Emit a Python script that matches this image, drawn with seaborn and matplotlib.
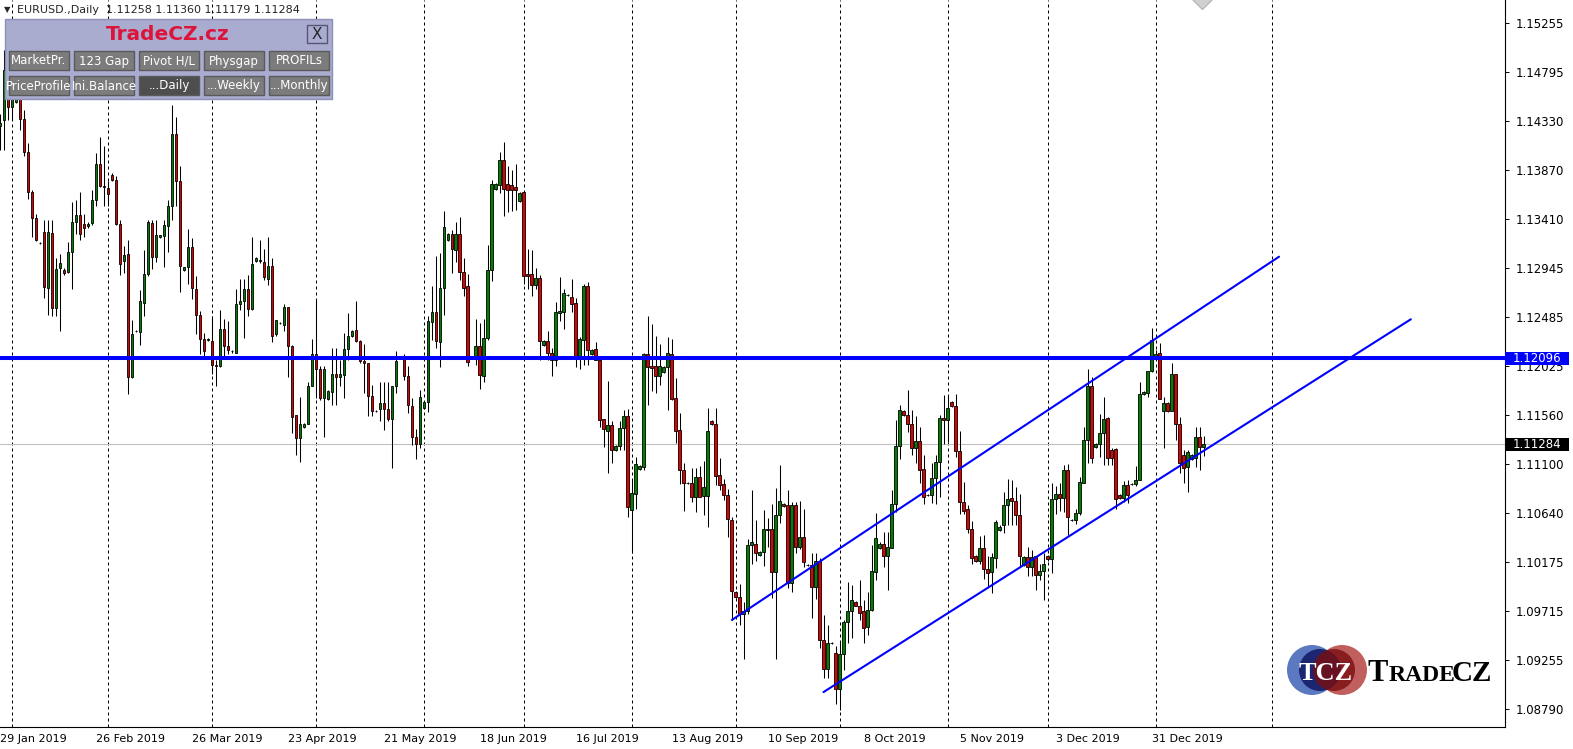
import matplotlib
matplotlib.use("Agg")
import numpy as np
import pandas as pd
import matplotlib.pyplot as plt
import matplotlib.transforms as mtransforms
from matplotlib.patches import Rectangle, Circle
import seaborn as sns

# ---------------- data (EURUSD daily) ----------------
first_day = "2019-01-29"
last_day = "2020-01-15"

open_ = [
    1.1428, 1.1434, 1.1481,
    1.1446, 1.1451, 1.1454, 1.1435, 1.1404, 1.1366, 1.1342, 1.1318, 1.1329, 1.1276, 1.1328, 1.1257, 1.1295, 1.1293, 1.1291, 1.1310, 1.1338, 1.1345, 1.1336, 1.1334, 1.1337, 1.1359, 1.1393, 1.1372,
    1.1370, 1.1382, 1.1378, 1.1336, 1.1301, 1.1308, 1.1192, 1.1235, 1.1234, 1.1262, 1.1289, 1.1337, 1.1305, 1.1324, 1.1325, 1.1334, 1.1353, 1.1421, 1.1377, 1.1293, 1.1296, 1.1314, 1.1275, 1.1250, 1.1228, 1.1227,
    1.1226, 1.1203, 1.1202, 1.1237, 1.1221, 1.1216, 1.1215, 1.1261, 1.1264, 1.1275, 1.1256, 1.1301, 1.1302, 1.1300, 1.1284, 1.1297, 1.1232, 1.1243, 1.1241, 1.1258, 1.1221, 1.1156, 1.1134, 1.1145, 1.1148, 1.1183,
    1.1214, 1.1199, 1.1172, 1.1171, 1.1178, 1.1195, 1.1192, 1.1194, 1.1218, 1.1231, 1.1236, 1.1226, 1.1207, 1.1205, 1.1174, 1.1160, 1.1162, 1.1167, 1.1162, 1.1152, 1.1183, 1.1210, 1.1209, 1.1193, 1.1165, 1.1135, 1.1129,
    1.1163, 1.1168, 1.1244, 1.1253, 1.1225, 1.1276, 1.1321, 1.1327, 1.1312, 1.1327, 1.1291, 1.1278, 1.1210, 1.1210, 1.1221, 1.1193, 1.1229, 1.1293, 1.1369, 1.1373, 1.1396, 1.1374, 1.1373, 1.1371, 1.1358,
    1.1366, 1.1289, 1.1289, 1.1279, 1.1285, 1.1222, 1.1226, 1.1215, 1.1208, 1.1252, 1.1253, 1.1269, 1.1267, 1.1262, 1.1210, 1.1227, 1.1278, 1.1214, 1.1218, 1.1208, 1.1152, 1.1141, 1.1147, 1.1123, 1.1127, 1.1144, 1.1155,
    1.1067, 1.1082, 1.1105, 1.1107, 1.1214, 1.1202, 1.1202, 1.1193, 1.1197, 1.1201, 1.1214, 1.1172, 1.1142, 1.1104, 1.1092, 1.1092, 1.1079, 1.1098, 1.1080, 1.1080, 1.1150, 1.1148, 1.1100, 1.1091, 1.1081, 1.1057,
    1.0989, 1.0985, 1.0969, 1.0971, 1.1034, 1.1035, 1.1024, 1.1027, 1.1048, 1.1049, 1.1008, 1.1062, 1.1072, 1.1071, 1.0998, 1.1071, 1.1032, 1.1041, 1.1015, 1.1015, 1.0994, 1.1019, 1.0944, 1.0917, 1.0941, 1.0932,
    1.0898, 1.0931, 1.0961, 1.0971, 1.0980, 1.0976, 1.0971, 1.0956, 1.0972, 1.1008, 1.1031, 1.1035, 1.1023, 1.1031, 1.1072, 1.1127, 1.1160, 1.1156, 1.1148, 1.1125, 1.1132, 1.1105, 1.1081, 1.1081, 1.1097, 1.1112, 1.1153,
    1.1151, 1.1168, 1.1165, 1.1122, 1.1074, 1.1068, 1.1049, 1.1023, 1.1019, 1.1031, 1.1011, 1.1008, 1.1021, 1.1048, 1.1052, 1.1071, 1.1078, 1.1075, 1.1062, 1.1015, 1.1022, 1.1013, 1.1023, 1.1005, 1.1009,
    1.1023, 1.1020, 1.1077, 1.1082, 1.1078, 1.1104, 1.1057, 1.1057, 1.1064, 1.1092, 1.1133, 1.1183, 1.1126, 1.1129, 1.1139, 1.1153, 1.1123, 1.1124, 1.1081, 1.1078, 1.1090, 1.1091, 1.1091, 1.1095, 1.1176, 1.1177, 1.1198,
    1.1210, 1.1215, 1.1160, 1.1167, 1.1160, 1.1195, 1.1148, 1.1118, 1.1107, 1.1115, 1.1116, 1.1135, 1.11258,
]

high = [
    1.1440, 1.1500, 1.1514,
    1.1499, 1.1456, 1.1456, 1.1444, 1.1412, 1.1368, 1.1346, 1.1319, 1.1340, 1.1340, 1.1340, 1.1304, 1.1308, 1.1295, 1.1319, 1.1357, 1.1359, 1.1366, 1.1346, 1.1338, 1.1368, 1.1403, 1.1418, 1.1410,
    1.1377, 1.1384, 1.1381, 1.1340, 1.1315, 1.1321, 1.1246, 1.1236, 1.1274, 1.1312, 1.1340, 1.1340, 1.1340, 1.1326, 1.1340, 1.1359, 1.1448, 1.1437, 1.1391, 1.1296, 1.1331, 1.1323, 1.1287, 1.1254, 1.1233, 1.1229,
    1.1249, 1.1208, 1.1255, 1.1247, 1.1245, 1.1217, 1.1275, 1.1284, 1.1284, 1.1288, 1.1324, 1.1305, 1.1321, 1.1313, 1.1324, 1.1304, 1.1246, 1.1244, 1.1261, 1.1258, 1.1222, 1.1156, 1.1173, 1.1149, 1.1187, 1.1228,
    1.1265, 1.1202, 1.1202, 1.1180, 1.1219, 1.1219, 1.1208, 1.1233, 1.1252, 1.1236, 1.1264, 1.1227, 1.1223, 1.1205, 1.1184, 1.1161, 1.1187, 1.1187, 1.1187, 1.1183, 1.1216, 1.1211, 1.1214, 1.1202, 1.1172, 1.1143, 1.1180,
    1.1169, 1.1249, 1.1278, 1.1306, 1.1309, 1.1348, 1.1328, 1.1330, 1.1338, 1.1343, 1.1304, 1.1289, 1.1211, 1.1247, 1.1243, 1.1247, 1.1316, 1.1378, 1.1375, 1.1404, 1.1413, 1.1391, 1.1387, 1.1393, 1.1366,
    1.1367, 1.1313, 1.1312, 1.1295, 1.1288, 1.1227, 1.1235, 1.1219, 1.1263, 1.1286, 1.1275, 1.1270, 1.1284, 1.1266, 1.1230, 1.1280, 1.1281, 1.1218, 1.1225, 1.1210, 1.1152, 1.1188, 1.1150, 1.1128, 1.1150, 1.1161, 1.1162,
    1.1095, 1.1117, 1.1109, 1.1215, 1.1249, 1.1242, 1.1231, 1.1223, 1.1202, 1.1230, 1.1228, 1.1191, 1.1158, 1.1111, 1.1093, 1.1106, 1.1106, 1.1108, 1.1113, 1.1163, 1.1151, 1.1163, 1.1116, 1.1096, 1.1086, 1.1060,
    1.0990, 1.0997, 1.0980, 1.1039, 1.1085, 1.1057, 1.1028, 1.1067, 1.1059, 1.1072, 1.1087, 1.1109, 1.1073, 1.1085, 1.1074, 1.1074, 1.1075, 1.1068, 1.1016, 1.1026, 1.1026, 1.1021, 1.0968, 1.0958, 1.0942, 1.0938,
    1.0942, 1.0963, 1.0999, 1.0996, 1.0981, 1.1001, 1.0982, 1.0989, 1.1034, 1.1064, 1.1036, 1.1046, 1.1046, 1.1085, 1.1151, 1.1166, 1.1161, 1.1180, 1.1161, 1.1155, 1.1145, 1.1118, 1.1082, 1.1111, 1.1118, 1.1156, 1.1175,
    1.1175, 1.1169, 1.1176, 1.1141, 1.1093, 1.1071, 1.1056, 1.1024, 1.1042, 1.1043, 1.1023, 1.1026, 1.1057, 1.1052, 1.1084, 1.1096, 1.1095, 1.1088, 1.1082, 1.1023, 1.1032, 1.1029, 1.1023, 1.1016, 1.1026,
    1.1024, 1.1092, 1.1089, 1.1092, 1.1109, 1.1110, 1.1058, 1.1068, 1.1098, 1.1145, 1.1199, 1.1192, 1.1130, 1.1157, 1.1173, 1.1154, 1.1125, 1.1125, 1.1082, 1.1094, 1.1095, 1.1092, 1.1108, 1.1187, 1.1179, 1.1198, 1.1238,
    1.1217, 1.1224, 1.1173, 1.1168, 1.1205, 1.1195, 1.1154, 1.1123, 1.1123, 1.1119, 1.1145, 1.1145, 1.11360,
]

low = [
    1.1406, 1.1406, 1.1434,
    1.1434, 1.1450, 1.1425, 1.1400, 1.1360, 1.1324, 1.1320, 1.1317, 1.1266, 1.1250, 1.1249, 1.1249, 1.1235, 1.1288, 1.1290, 1.1275, 1.1327, 1.1321, 1.1324, 1.1332, 1.1335, 1.1353, 1.1371, 1.1353,
    1.1353, 1.1377, 1.1335, 1.1288, 1.1290, 1.1176, 1.1191, 1.1234, 1.1222, 1.1249, 1.1287, 1.1294, 1.1300, 1.1323, 1.1296, 1.1310, 1.1340, 1.1353, 1.1272, 1.1292, 1.1280, 1.1265, 1.1232, 1.1214, 1.1210, 1.1226,
    1.1195, 1.1183, 1.1201, 1.1211, 1.1214, 1.1215, 1.1215, 1.1255, 1.1229, 1.1249, 1.1255, 1.1300, 1.1299, 1.1283, 1.1279, 1.1225, 1.1231, 1.1242, 1.1235, 1.1192, 1.1139, 1.1118, 1.1112, 1.1144, 1.1148, 1.1183,
    1.1172, 1.1170, 1.1135, 1.1170, 1.1166, 1.1166, 1.1183, 1.1172, 1.1208, 1.1230, 1.1225, 1.1205, 1.1177, 1.1155, 1.1155, 1.1159, 1.1150, 1.1142, 1.1150, 1.1106, 1.1177, 1.1209, 1.1189, 1.1158, 1.1128, 1.1115, 1.1125,
    1.1162, 1.1159, 1.1227, 1.1219, 1.1201, 1.1250, 1.1320, 1.1290, 1.1300, 1.1283, 1.1268, 1.1202, 1.1209, 1.1203, 1.1181, 1.1187, 1.1227, 1.1282, 1.1368, 1.1365, 1.1344, 1.1347, 1.1348, 1.1349, 1.1357,
    1.1280, 1.1275, 1.1268, 1.1275, 1.1208, 1.1221, 1.1208, 1.1193, 1.1202, 1.1245, 1.1237, 1.1268, 1.1253, 1.1201, 1.1199, 1.1203, 1.1203, 1.1213, 1.1208, 1.1145, 1.1126, 1.1101, 1.1111, 1.1122, 1.1123, 1.1123, 1.1060,
    1.1026, 1.1068, 1.1104, 1.1104, 1.1166, 1.1179, 1.1177, 1.1184, 1.1196, 1.1161, 1.1170, 1.1130, 1.1091, 1.1066, 1.1091, 1.1074, 1.1065, 1.1079, 1.1062, 1.1051, 1.1147, 1.1090, 1.1085, 1.1076, 1.1041, 1.0963,
    1.0984, 1.0958, 1.0926, 1.0969, 1.1016, 1.1019, 1.1023, 1.1014, 1.1032, 1.0984, 1.0926, 1.1054, 1.1069, 1.0993, 1.0989, 1.1026, 1.1030, 1.1013, 1.1014, 1.0965, 1.0983, 1.0937, 1.0908, 1.0908, 1.0940, 1.0884,
    1.0878, 1.0916, 1.0941, 1.0946, 1.0976, 1.0963, 1.0941, 1.0949, 1.0971, 1.1001, 1.1030, 1.1013, 1.0991, 1.1031, 1.1065, 1.1115, 1.1155, 1.1140, 1.1118, 1.1111, 1.1092, 1.1072, 1.1080, 1.1073, 1.1072, 1.1079, 1.1129,
    1.1131, 1.1164, 1.1117, 1.1063, 1.1063, 1.1045, 1.1016, 1.1018, 1.1016, 1.1002, 1.0994, 1.0988, 1.1012, 1.1047, 1.1045, 1.1052, 1.1052, 1.1052, 1.1013, 1.1014, 1.1004, 1.1004, 1.0991, 1.1001, 1.0982,
    1.1019, 1.1007, 1.1063, 1.1066, 1.1065, 1.1043, 1.1056, 1.1053, 1.1062, 1.1092, 1.1111, 1.1111, 1.1125, 1.1117, 1.1109, 1.1109, 1.1109, 1.1068, 1.1077, 1.1074, 1.1073, 1.1090, 1.1089, 1.1095, 1.1175, 1.1173, 1.1197,
    1.1209, 1.1171, 1.1125, 1.1159, 1.1160, 1.1133, 1.1101, 1.1092, 1.1084, 1.1114, 1.1107, 1.1104, 1.11179,
]

close = [
    1.1431, 1.1481, 1.1446,
    1.1459, 1.1455, 1.1435, 1.1404, 1.1366, 1.1342, 1.1321, 1.1318, 1.1277, 1.1329, 1.1257, 1.1294, 1.1299, 1.1290, 1.1310, 1.1338, 1.1345, 1.1327, 1.1332, 1.1336, 1.1359, 1.1393, 1.1372, 1.1371,
    1.1364, 1.1378, 1.1336, 1.1298, 1.1307, 1.1192, 1.1232, 1.1235, 1.1264, 1.1289, 1.1338, 1.1305, 1.1326, 1.1326, 1.1335, 1.1353, 1.1421, 1.1377, 1.1297, 1.1296, 1.1314, 1.1276, 1.1250, 1.1228, 1.1216, 1.1228,
    1.1203, 1.1202, 1.1237, 1.1221, 1.1217, 1.1216, 1.1261, 1.1264, 1.1275, 1.1256, 1.1298, 1.1304, 1.1301, 1.1286, 1.1297, 1.1231, 1.1246, 1.1243, 1.1258, 1.1221, 1.1154, 1.1134, 1.1148, 1.1148, 1.1183, 1.1214,
    1.1199, 1.1172, 1.1199, 1.1179, 1.1195, 1.1192, 1.1195, 1.1218, 1.1231, 1.1235, 1.1226, 1.1207, 1.1205, 1.1174, 1.1160, 1.1160, 1.1167, 1.1162, 1.1152, 1.1183, 1.1207, 1.1210, 1.1193, 1.1166, 1.1135, 1.1129, 1.1173,
    1.1168, 1.1245, 1.1253, 1.1226, 1.1276, 1.1333, 1.1327, 1.1313, 1.1327, 1.1291, 1.1276, 1.1206, 1.1210, 1.1221, 1.1194, 1.1229, 1.1293, 1.1374, 1.1374, 1.1396, 1.1369, 1.1368, 1.1368, 1.1368, 1.1365,
    1.1287, 1.1287, 1.1279, 1.1285, 1.1226, 1.1226, 1.1215, 1.1208, 1.1253, 1.1254, 1.1271, 1.1269, 1.1261, 1.1210, 1.1228, 1.1278, 1.1217, 1.1217, 1.1208, 1.1151, 1.1143, 1.1147, 1.1123, 1.1127, 1.1144, 1.1155, 1.1069,
    1.1083, 1.1110, 1.1108, 1.1214, 1.1201, 1.1200, 1.1193, 1.1202, 1.1201, 1.1215, 1.1171, 1.1141, 1.1104, 1.1092, 1.1092, 1.1079, 1.1098, 1.1079, 1.1088, 1.1141, 1.1148, 1.1099, 1.1090, 1.1081, 1.1058, 1.0990,
    1.0985, 1.0969, 1.0971, 1.1034, 1.1036, 1.1026, 1.1027, 1.1049, 1.1049, 1.1008, 1.1062, 1.1075, 1.1070, 1.0998, 1.1071, 1.1032, 1.1041, 1.1018, 1.1015, 1.0994, 1.1019, 1.0944, 1.0917, 1.0941, 1.0941, 1.0898,
    1.0931, 1.0961, 1.0971, 1.0982, 1.0976, 1.0970, 1.0955, 1.0972, 1.1009, 1.1040, 1.1035, 1.1023, 1.1032, 1.1072, 1.1127, 1.1161, 1.1156, 1.1148, 1.1125, 1.1132, 1.1104, 1.1079, 1.1081, 1.1097, 1.1112, 1.1153, 1.1151,
    1.1163, 1.1165, 1.1122, 1.1074, 1.1066, 1.1049, 1.1021, 1.1019, 1.1031, 1.1011, 1.1007, 1.1022, 1.1055, 1.1051, 1.1071, 1.1077, 1.1075, 1.1062, 1.1023, 1.1022, 1.1013, 1.1022, 1.1005, 1.1009, 1.1016,
    1.1020, 1.1077, 1.1082, 1.1078, 1.1104, 1.1060, 1.1057, 1.1064, 1.1093, 1.1133, 1.1183, 1.1116, 1.1129, 1.1139, 1.1152, 1.1116, 1.1116, 1.1077, 1.1078, 1.1090, 1.1081, 1.1091, 1.1095, 1.1176, 1.1178, 1.1198, 1.1227,
    1.1214, 1.1171, 1.1167, 1.1160, 1.1195, 1.1148, 1.1111, 1.1106, 1.1121, 1.1118, 1.1135, 1.1126, 1.11284,
]

price_ticks = [1.15255, 1.14795, 1.14330, 1.13870, 1.13410, 1.12945, 1.12485, 1.12025,
               1.11560, 1.11100, 1.10640, 1.10175, 1.09715, 1.09255, 1.08790]
level_price = 1.12096          # thick blue horizontal level

# trendline anchors: (bar number, price)
upper_line_bar = [183, 319.8]
upper_line_price = [1.0963, 1.13053]
lower_line_bar = [205.9, 352.75]
lower_line_price = [1.0895, 1.12463]

# grey arrow object sitting on the top edge: (bar number, price)
arrow_bar = 300.5
arrow_price = 1.1548

panel_row1 = ["MarketPr.", "123 Gap", "Pivot H/L", "Physgap", "PROFILs"]
panel_row2 = ["PriceProfile", "Ini.Balance", "...Daily", "...Weekly", "...Monthly"]

# ---------------- frame ----------------
days = pd.date_range(first_day, last_day, freq="D")
days = days[days.dayofweek != 5]   # feed has sunday bars, no saturdays
df = pd.DataFrame({"date": days, "open": open_, "high": high, "low": low, "close": close})
df["i"] = np.arange(len(df))

W, H = 1573, 749
sns.set_style("white")
plt.rcParams["font.family"] = ["DejaVu Sans"]

fig = plt.figure(figsize=(W / 100, H / 100), dpi=100)
ax = fig.add_axes([0, 22 / H, 1505 / W, 727 / H])
ymin, ymax = 1.08621, 1.15472
ax.set_xlim(0.075, 376.3)
ax.set_ylim(ymin, ymax)

# month separators (and the next one, projected in calendar days)
month_start = df.index[df["date"].dt.month != df["date"].dt.month.shift()][1:]
last = df["date"].iloc[-1]
next_sep = df["i"].iloc[-1] + ((last + pd.offsets.MonthBegin(1)) - last).days
for i in list(month_start) + [next_sep]:
    ax.axvline(i, color="black", linewidth=0.72, linestyle=(0, (3, 3)), zorder=1)

# bid line
ax.axhline(df["close"].iloc[-1], color="#C0C0C0", linewidth=0.75, zorder=2)

# candles
up = df["close"] >= df["open"]
body_col = np.where(up, "#008000", "#E00000")
ax.vlines(df["i"], df["low"], df["high"], color="black", linewidth=0.75, zorder=3)
ax.bar(df["i"], (df["close"] - df["open"]).abs().clip(lower=0.00002),
       bottom=df[["open", "close"]].min(axis=1), width=0.72,
       color=body_col, edgecolor="black", linewidth=0.6, zorder=4)

# objects
ax.axhline(level_price, color="#0000FF", linewidth=2.9, zorder=5)
sns.lineplot(x=upper_line_bar, y=upper_line_price, ax=ax, color="#0000FF", linewidth=1.5, zorder=5)
sns.lineplot(x=lower_line_bar, y=lower_line_price, ax=ax, color="#0000FF", linewidth=1.5, zorder=5)
ax.plot([arrow_bar], [arrow_price], marker="D", markersize=10, color="#D0D0D0",
        markeredgecolor="#B8B8B8", zorder=5)
ax.set_xlim(0.075, 376.3)
ax.set_ylim(ymin, ymax)

# axes
for s in ["top", "left"]:
    ax.spines[s].set_visible(False)
for s in ["right", "bottom"]:
    ax.spines[s].set_color("black")
    ax.spines[s].set_linewidth(0.8)
ax.yaxis.tick_right()
ax.set_yticks(price_ticks)
ax.set_yticklabels([f"{v:.5f}" for v in price_ticks])
ax.tick_params(axis="y", direction="out", length=3, width=0.7, pad=5, labelsize=8.5, colors="black")
lab = df.iloc[::24]
ax.set_xticks(lab["i"])
ax.set_xticklabels([f"{d.day} {d.strftime('%b %Y')}" for d in lab["date"]], ha="left")
ax.tick_params(axis="x", direction="out", length=3, width=0.7, pad=2, labelsize=8, colors="black")
ax.set_xlabel("")
ax.set_ylabel("")

# price boxes on the scale
blend = mtransforms.blended_transform_factory(ax.transAxes, ax.transData)
box_h = 13 * (ymax - ymin) / 727
for price, bg in [(level_price, "#0000FF"), (df["close"].iloc[-1], "black")]:
    ax.add_patch(Rectangle((1.0, price - box_h / 2), 64 / 1505, box_h, transform=blend,
                           facecolor=bg, edgecolor="none", clip_on=False, zorder=6))
    ax.text(1.0 + 8 / 1505, price, f"{price:.5f}", transform=blend, color="white",
            fontsize=8.5, va="center", ha="left", zorder=7, clip_on=False)

# ---------------- overlay: header, panel, logo ----------------
ov = fig.add_axes([0, 0, 1, 1], zorder=10)
ov.set_xlim(0, W)
ov.set_ylim(H, 0)
ov.axis("off")

o, h, l, c = open_[-1], high[-1], low[-1], close[-1]
ov.text(4, 10, "\u25bc", fontsize=6, va="center", ha="left")
ov.text(17, 10, f"EURUSD.,Daily  {o:.5f} {h:.5f} {l:.5f} {c:.5f}", fontsize=8,
        va="center", ha="left")

ov.add_patch(Rectangle((5, 19), 327, 80, facecolor="#A9ABCF", edgecolor="#8E90B8", linewidth=1))
ov.text(168, 35, "TradeCZ.cz", color="#DC143C", fontsize=14.5, fontweight="bold",
        ha="center", va="center")
ov.add_patch(Rectangle((307, 25), 20, 18, facecolor="#A9ABCF", edgecolor="#55557A", linewidth=1))
ov.text(317, 34.5, "X", fontsize=11, ha="center", va="center")

col_x = [9, 74, 139, 204, 269]
for row_y, names in [(51, panel_row1), (76, panel_row2)]:
    for x0, name in zip(col_x, names):
        fc = "#4E4E4E" if name == "...Daily" else "#7C7C7C"
        r = Rectangle((x0, row_y), 60, 19, facecolor=fc, edgecolor="#5A5A5A", linewidth=1)
        ov.add_patch(r)
        t = ov.text(x0 + 30, row_y + 10, name, color="white", fontsize=8.5,
                    ha="center", va="center")
        t.set_clip_path(r)

# logo
ov.add_patch(Circle((1312, 670), 25, facecolor="#5B79C0", edgecolor="none"))
ov.add_patch(Circle((1342, 670), 25, facecolor="#C0605E", edgecolor="none"))
ov.add_patch(Circle((1320, 670), 21, facecolor="#1B2570", edgecolor="none"))
ov.add_patch(Circle((1334, 670), 21, facecolor="#7A0E10", edgecolor="none", alpha=0.8))
ov.text(1326, 680, "TCZ", color="white", fontsize=19, fontweight="bold",
        family="Liberation Serif", ha="center", va="baseline")
ov.text(1368, 681, "T", color="black", fontsize=22, fontweight="bold",
        family="Liberation Serif", ha="left", va="baseline")
ov.text(1389, 681, "RADE", color="black", fontsize=17, fontweight="bold",
        family="Liberation Serif", ha="left", va="baseline")
ov.text(1452, 681, "CZ", color="black", fontsize=21, fontweight="bold",
        family="Liberation Serif", ha="left", va="baseline")

fig.savefig("out.png", dpi=100)
